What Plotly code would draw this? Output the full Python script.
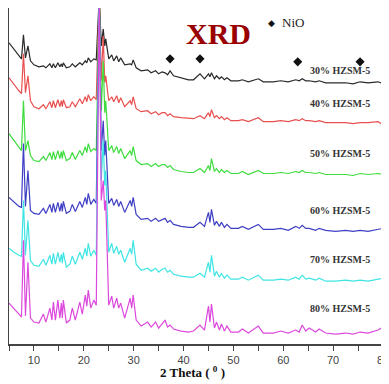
import plotly.graph_objects as go

two_theta = [5.0, 6.0, 7.0, 7.5, 7.9, 8.3, 8.8, 9.3, 10.0, 11.0,
             11.9, 12.4, 13.2, 13.6, 13.9, 14.3, 14.8, 15.2, 15.5, 15.7,
             15.9, 16.5, 17.2, 17.7, 18.3, 19.2, 19.7, 20.3, 20.6, 20.9,
             21.4, 22.0, 22.5, 23.1, 23.5, 23.9, 24.2, 24.4, 25.0, 25.6,
             26.0, 26.6, 27.0, 27.4, 28.2, 29.3, 29.6, 29.9, 30.5, 31.5,
             32.8, 33.5, 34.4, 35.0, 35.7, 36.3, 36.8, 37.3, 38.0, 39.5,
             41.0, 42.0, 43.3, 44.2, 45.0, 45.3, 45.6, 46.2, 46.6, 47.2,
             47.6, 48.2, 48.7, 49.5, 51.0, 51.8, 53.0, 55.0, 56.0, 58.0,
             59.5, 61.0, 62.5, 63.2, 63.8, 64.5, 65.2, 66.5, 67.2, 68.5,
             70.5, 72.5, 74.0, 75.4, 77.0, 79.0, 80.0]

i_30 = [302, 296, 289, 286, 310, 287, 299, 284, 280, 278,
        279, 277, 281, 277, 281, 277, 282, 278, 281, 278,
        282, 277, 278, 281, 278, 282, 280, 284, 282, 287,
        283, 286, 285, 349, 299, 316, 299, 306, 286, 290,
        284, 289, 283, 287, 280, 281, 280, 285, 277, 274,
        275, 272, 274, 271, 273, 272, 270, 274, 269, 267,
        265, 265, 271, 266, 271, 268, 272, 266, 269, 266,
        268, 265, 267, 264, 264, 265, 263, 266, 263, 263,
        264, 263, 265, 264, 266, 264, 264, 263, 264, 262,
        262, 262, 261, 263, 262, 263, 261]

i_40 = [267, 260, 254, 251, 291, 252, 269, 244, 238, 236,
        240, 236, 243, 237, 244, 237, 245, 238, 244, 238,
        245, 237, 238, 243, 238, 246, 241, 248, 243, 250,
        244, 248, 245, 349, 264, 309, 262, 269, 244, 248,
        243, 249, 242, 247, 238, 244, 240, 248, 236, 233,
        234, 231, 233, 230, 232, 232, 229, 231, 228, 227,
        226, 226, 229, 226, 232, 228, 235, 227, 229, 226,
        228, 225, 227, 224, 224, 225, 223, 227, 223, 223,
        224, 223, 225, 224, 226, 224, 224, 223, 224, 222,
        222, 222, 221, 222, 222, 223, 220]

i_50 = [211, 204, 197, 194, 244, 194, 204, 189, 184, 183,
        188, 184, 192, 185, 193, 185, 194, 186, 193, 186,
        194, 184, 186, 192, 185, 194, 189, 198, 192, 201,
        193, 196, 194, 349, 234, 284, 232, 244, 194, 199,
        192, 198, 191, 196, 186, 194, 189, 198, 184, 180,
        181, 178, 181, 178, 180, 180, 177, 179, 175, 173,
        172, 172, 176, 172, 179, 174, 186, 173, 176, 172,
        175, 172, 174, 171, 171, 173, 170, 174, 171, 171,
        172, 171, 173, 172, 174, 172, 172, 171, 172, 170,
        170, 170, 169, 171, 170, 171, 170]

i_60 = [147, 142, 138, 137, 201, 138, 174, 134, 131, 130,
        136, 131, 140, 132, 141, 132, 142, 133, 141, 133,
        143, 131, 133, 140, 133, 143, 137, 147, 140, 151,
        140, 145, 141, 349, 194, 224, 189, 204, 141, 146,
        139, 145, 138, 143, 132, 144, 138, 147, 130, 125,
        126, 123, 126, 123, 125, 126, 122, 124, 120, 118,
        117, 117, 122, 118, 132, 122, 135, 119, 123, 118,
        122, 117, 120, 116, 116, 118, 115, 120, 115, 115,
        116, 114, 118, 116, 119, 116, 116, 114, 116, 114,
        113, 114, 113, 114, 113, 115, 116]

i_70 = [96, 92, 89, 88, 144, 89, 124, 84, 79, 78,
        85, 79, 89, 80, 91, 80, 92, 82, 90, 81,
        92, 77, 80, 88, 80, 92, 85, 96, 88, 101,
        88, 94, 89, 349, 164, 204, 159, 174, 92, 101,
        91, 98, 90, 94, 82, 96, 90, 104, 80, 74,
        76, 73, 76, 72, 75, 76, 72, 74, 70, 68,
        67, 67, 71, 67, 82, 72, 89, 68, 73, 67,
        71, 66, 69, 65, 65, 67, 64, 69, 64, 64,
        65, 64, 67, 65, 69, 65, 66, 64, 66, 63,
        63, 64, 63, 64, 63, 65, 66]

i_80 = [41, 36, 30, 27, 104, 28, 82, 26, 22, 21,
        30, 22, 36, 24, 42, 24, 44, 26, 41, 26,
        44, 21, 24, 36, 24, 42, 30, 49, 38, 54,
        36, 44, 39, 349, 144, 164, 134, 144, 39, 48,
        36, 46, 36, 41, 26, 46, 36, 49, 24, 18,
        22, 17, 22, 16, 21, 24, 17, 19, 15, 13,
        12, 13, 19, 14, 38, 22, 40, 16, 22, 14,
        20, 13, 18, 12, 12, 15, 11, 18, 11, 11,
        13, 11, 14, 12, 19, 13, 16, 12, 15, 11,
        10, 11, 10, 12, 11, 14, 17]

series_names = ["30% HZSM-5", "40% HZSM-5", "50% HZSM-5",
                "60% HZSM-5", "70% HZSM-5", "80% HZSM-5"]
series_values = [i_30, i_40, i_50, i_60, i_70, i_80]
series_colors = ["#2a2a2a", "#e8504f", "#3fdc3f", "#3f3fc4", "#3fe4e4", "#dc48dc"]
label_theta = 71.4
label_intensity = [274, 241, 191, 134, 85, 36]

nio_theta = [37.3, 43.3, 62.9, 75.4]
nio_intensity = [286, 286, 283, 283]

x_ticks = [10, 20, 30, 40, 50, 60, 70, 80]

fig = go.Figure()
for name, vals, col in zip(series_names, series_values, series_colors):
    fig.add_trace(go.Scatter(x=two_theta, y=vals, mode="lines", name=name,
                             line=dict(color=col, width=1.2), showlegend=False))

fig.add_trace(go.Scatter(x=nio_theta, y=nio_intensity, mode="markers",
                         marker=dict(symbol="diamond", size=7, color="#111111"),
                         showlegend=False))

for name, ly in zip(series_names, label_intensity):
    fig.add_annotation(x=label_theta, y=ly, text="<b>" + name + "</b>", showarrow=False,
                       font=dict(family="Liberation Serif", size=10, color="#333333"))

fig.add_annotation(x=47.1, y=311, text="<b>XRD</b>", showarrow=False,
                   font=dict(family="Liberation Serif", size=30, color="#9a0000"))
fig.add_annotation(x=57.7, y=322, text="◆", showarrow=False,
                   font=dict(family="DejaVu Sans", size=9, color="#111111"))
fig.add_annotation(x=61.9, y=322, text="NiO", showarrow=False,
                   font=dict(family="Liberation Serif", size=13, color="#222222"))

fig.add_annotation(xref="paper", yref="paper", x=0.49, y=-0.083, yanchor="middle",
                   text="<b>2 Theta ( <sup>0</sup> )</b>", showarrow=False,
                   font=dict(family="Liberation Serif", size=13, color="#111111"))

# the page body adds an 8px offset, so the figure is sized to fill the remaining window
fig.update_layout(
    width=381, height=376,
    margin=dict(l=1, r=6, t=0, b=40, autoexpand=False),
    paper_bgcolor="white", plot_bgcolor="white",
    xaxis=dict(range=[5, 80], tickvals=x_ticks, ticks="outside", ticklen=5,
               tickwidth=1.2, tickcolor="#444", showline=True, mirror=True,
               linecolor="#444", linewidth=1.5, showgrid=False, zeroline=False,
               automargin=False, ticklabeloverflow="allow",
               tickfont=dict(family="Liberation Sans", size=11, color="#444"),
               minor=dict(ticks="outside", dtick=5, tick0=5, ticklen=5,
                          tickcolor="#444", tickwidth=1.2)),
    yaxis=dict(range=[0, 337], showticklabels=False, ticks="", showline=True,
               mirror=True, linecolor="#444", linewidth=1.5, showgrid=False,
               zeroline=False, automargin=False),
)

fig.write_html("out.html")
